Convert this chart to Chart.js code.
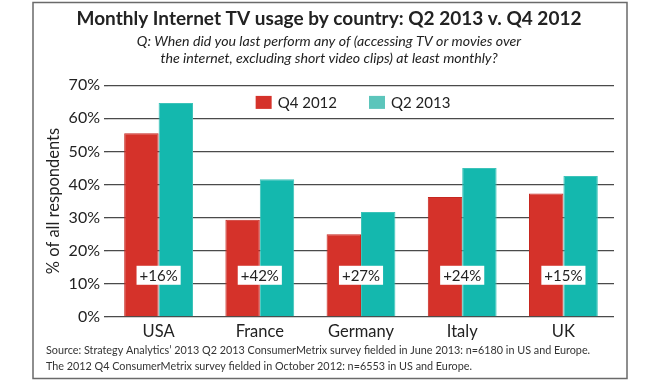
<!DOCTYPE html>
<html>
<head>
<meta charset="utf-8">
<script src="https://cdn.jsdelivr.net/npm/chart.js@4.4.0/dist/chart.umd.min.js"></script>
<style>
  html, body { margin: 0; padding: 0; background: #fff; }
  #wrap { position: relative; width: 660px; height: 383px; }
</style>
</head>
<body>
<div id="wrap"><canvas id="tv-chart"></canvas></div>
<script>
const countries = ['USA', 'France', 'Germany', 'Italy', 'UK'];
const q4_2012 = [55.5, 29.4, 25.0, 36.2, 37.3];
const q2_2013 = [64.6, 41.6, 31.7, 45.0, 42.6];
const changeLabels = ['+16%', '+42%', '+27%', '+24%', '+15%'];
const yTicks = [0, 10, 20, 30, 40, 50, 60, 70];

const titleText = 'Monthly Internet TV usage by country: Q2 2013 v. Q4 2012';
const questionText = [
    'Q: When did you last perform any of (accessing TV or movies over',
    'the internet, excluding short video clips) at least monthly?'
];
const sourceText = [
    'Source: Strategy Analytics\u2019 2013 Q2 2013 ConsumerMetrix survey fielded in June 2013: n=6180 in US and Europe.',
    'The 2012 Q4 ConsumerMetrix survey fielded in October 2012: n=6553 in US and Europe.'
];

const FONT = 'Lato, "Open Sans", sans-serif';
const INK = '#222';

// frame, source note, in-bar change labels and legend
const extras = {
    id: 'extras',
    beforeDraw(chart) {
        const { ctx } = chart;
        ctx.save();
        ctx.fillStyle = '#fff';
        ctx.fillRect(0, 0, chart.width, chart.height);
        ctx.strokeStyle = '#6a6a6a';
        ctx.lineWidth = 1.5;
        ctx.strokeRect(33, 2.5, 594, 376);
        ctx.restore();
    },
    afterDatasetsDraw(chart) {
        const { ctx, scales: { x, y } } = chart;
        ctx.save();
        ctx.font = '15px ' + FONT;
        ctx.textAlign = 'center';
        ctx.textBaseline = 'middle';
        changeLabels.forEach((t, i) => {
            const cx = x.getPixelForValue(i);
            const cy = y.getPixelForValue(12.6);
            const w = ctx.measureText(t).width + 6;
            ctx.fillStyle = '#fff';
            ctx.fillRect(cx - w / 2, cy - 9.5, w, 19);
            ctx.fillStyle = INK;
            ctx.fillText(t, cx, cy + 1);
        });

        // legend
        const items = chart.data.datasets.map((d) => ({ text: d.label, color: d.legendColor }));
        ctx.textAlign = 'left';
        const widths = items.map((it) => 16 + 6 + ctx.measureText(it.text).width);
        const gap = 32;
        const total = widths.reduce((a, b) => a + b, 0) + gap;
        let lx = (chart.chartArea.left + chart.chartArea.right) / 2 - total / 2 - 8;
        const ly = y.getPixelForValue(64.8);
        items.forEach((it, i) => {
            ctx.fillStyle = it.color;
            ctx.fillRect(lx, ly - 6.5, 16, 13);
            ctx.fillStyle = INK;
            ctx.fillText(it.text, lx + 22, ly + 1);
            lx += widths[i] + gap;
        });

        // source note
        ctx.font = '10.8px ' + FONT;
        ctx.fillStyle = '#333';
        sourceText.forEach((t, i) => ctx.fillText(t, 46, 351 + i * 16));
        ctx.restore();
    }
};

new Chart(document.getElementById('tv-chart'), {
    type: 'bar',
    data: {
        labels: countries,
        datasets: [
            {
                label: 'Q4 2012',
                data: q4_2012,
                backgroundColor: '#D5322A',
                borderColor: '#C62720',
                borderWidth: 1,
                legendColor: '#D5322A'
            },
            {
                label: 'Q2 2013',
                data: q2_2013,
                backgroundColor: '#14B8AE',
                borderColor: '#3CC3B9',
                borderWidth: 1,
                legendColor: '#5CC5BB'
            }
        ]
    },
    options: {
        responsive: true,
        maintainAspectRatio: false,
        animation: false,
        categoryPercentage: 0.68,
        barPercentage: 1.0,
        layout: { padding: { left: 44, right: 46, top: 0, bottom: 0 } },
        plugins: {
            legend: { display: false },
            tooltip: { enabled: false },
            title: {
                display: true,
                text: titleText,
                color: INK,
                font: { family: FONT, size: 19, weight: 'bold', lineHeight: 1.2 },
                padding: { top: 7, bottom: 3 }
            },
            subtitle: {
                display: true,
                text: questionText,
                color: INK,
                font: { family: FONT, size: 14.2, style: 'italic', lineHeight: 1.14 },
                padding: { top: 1, bottom: 19 }
            }
        },
        scales: {
            x: {
                grid: { display: false, drawTicks: false },
                border: { display: false },
                ticks: { color: INK, font: { family: FONT, size: 16.5 }, padding: 5 },
                afterFit: (s) => { s.height = 66; }
            },
            y: {
                min: 0,
                max: 70,
                afterBuildTicks: (s) => { s.ticks = yTicks.map((v) => ({ value: v })); },
                afterFit: (s) => { s.width = 64; },
                border: { display: false },
                grid: { color: '#4a4a4a', lineWidth: 1.3, tickLength: 4, drawTicks: true },
                ticks: {
                    color: INK,
                    font: { family: FONT, size: 16 },
                    padding: 4,
                    callback: (v) => v + '%'
                },
                title: {
                    display: true,
                    text: '% of all respondents',
                    color: INK,
                    font: { family: FONT, size: 16.5 },
                    padding: 0
                }
            }
        }
    },
    plugins: [extras]
});
</script>
</body>
</html>
